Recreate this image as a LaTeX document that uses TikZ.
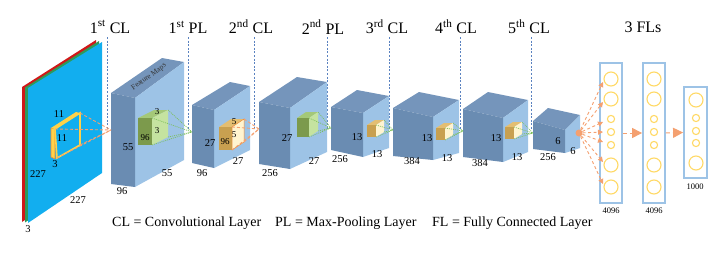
\documentclass[tikz,border=0pt]{standalone}
\usepackage{fontspec}
\setmainfont{Liberation Serif}
\usetikzlibrary{arrows.meta}
\definecolor{cfront}{HTML}{6A8CB2}
\definecolor{ctop}{HTML}{7595BB}
\definecolor{cside}{HTML}{9DC3E6}
\definecolor{ccyan}{HTML}{12AEEF}
\definecolor{cred}{HTML}{D01818}
\definecolor{cgreen}{HTML}{2E9A5A}
\definecolor{gfront}{HTML}{7C9A4C}
\definecolor{gtop}{HTML}{A4C878}
\definecolor{gside}{HTML}{C5E3A0}
\definecolor{ofront}{HTML}{C8A050}
\definecolor{otop}{HTML}{E3BE72}
\definecolor{oside}{HTML}{FFF4D0}
\definecolor{oline}{HTML}{F4A070}
\definecolor{gline}{HTML}{7CC05A}
\definecolor{bline}{HTML}{5A82C0}
\definecolor{fcblue}{HTML}{9DC3E6}
\definecolor{fcyel}{HTML}{FFD966}
\definecolor{kyel}{HTML}{FFD24A}
\definecolor{korg}{HTML}{F08A30}
\newcommand{\cuboid}[7]{%
  \fill[ctop] #1 -- #2 -- #5 -- #7 -- cycle;
  \fill[cside] #2 -- #5 -- #6 -- #3 -- cycle;
  \fill[cfront] #1 -- #2 -- #3 -- #4 -- cycle;}
\newcommand{\scube}[9]{%
  \fill[#8] (#1,#2) -- (#3,#2) -- ({#3+#5},{#2-#6}) -- ({#1+#5},{#2-#6}) -- cycle;
  \fill[#9] (#3,#2) -- ({#3+#5},{#2-#6}) -- ({#3+#5},{#4-#6}) -- (#3,#4) -- cycle;
  \fill[#7] (#1,#2) rectangle (#3,#4);}
\newcommand{\fan}[7]{%
  \draw[#7] (#1,#2) -- #6;
  \draw[#7] ({#1+#4},{#2-#5}) -- #6;
  \draw[#7] ({#1+#4},{#3-#5}) -- #6;
  \draw[#7] (#1,#3) -- #6;}
\begin{document}
\begin{tikzpicture}[x=1pt,y=-1pt,
  toplab/.style={font=\fontsize{16}{16}\selectfont,inner sep=0pt},
  leg/.style={font=\fontsize{14}{14}\selectfont,inner sep=0pt,anchor=west},
  num/.style={font=\fontsize{10.5}{10.5}\selectfont,inner sep=0pt},
  snum/.style={font=\fontsize{9}{9}\selectfont,inner sep=0pt},
  fnum/.style={font=\fontsize{8.5}{8.5}\selectfont,inner sep=0pt},
  vline/.style={draw=bline,line width=0.8pt,dash pattern=on 2pt off 1.6pt},
  oconn/.style={draw=oline,line width=0.9pt,dash pattern=on 3pt off 2pt},
  gconn/.style={draw=gline,line width=0.7pt,dash pattern=on 1pt off 1pt},
  fcbox/.style={draw=fcblue,line width=1.8pt},
  neuron/.style={draw=fcyel,line width=1.1pt},
  farrow/.style={draw=oline,line width=0.9pt,dash pattern=on 3pt off 2.5pt,-{Triangle[length=5pt,width=5pt,fill=oline]}},
  bigarrow/.style={draw=oline,line width=1pt,dash pattern=on 4pt off 3pt,-{Triangle[length=10pt,width=10pt,fill=oline]}}
]
\useasboundingbox (0,0) rectangle (724,260);

% vertical layer guide lines
\foreach \xx/\nm in {107/v1,188/v2,254/v3,327/v4,389/v5,460/v6,531/v7}{
  \coordinate (\nm a) at (\xx,37);
  \coordinate (\nm b) at (\xx,130);
  \draw[vline] (\nm a) -- (\nm b);}

% input image planes
\fill[cred] (22,87) -- (96,40) -- (96,171) -- (22,222) -- cycle;
\fill[cgreen] (25,87.5) -- (99,41) -- (99,172) -- (25,222.5) -- cycle;
\fill[ccyan] (28,88) -- (102,42) -- (102,173) -- (28,223) -- cycle;

% kernel on input
\fill[kyel,draw=korg,line width=0.6pt] (51,128) -- (55,129) -- (55,159) -- (51,157) -- cycle;
\fill[kyel] (51,128) -- (76,112) -- (80,113) -- (55,129) -- cycle;
\draw[kyel,line width=1.6pt] (55,129) -- (80,113) -- (80,145) -- (57,158) -- cycle;

% feature map blocks
\cuboid{(111,93)}{(135,98)}{(135,187)}{(111,184)}{(184,62)}{(184,160)}{(162,58)}
\cuboid{(192,105)}{(214,110)}{(214,168)}{(192,163)}{(250,86)}{(250,150)}{(230,82)}
\cuboid{(259,102)}{(290,108)}{(290,169)}{(259,164)}{(327,82)}{(327,152)}{(297,77)}
\cuboid{(331,107)}{(363,113)}{(363,157)}{(331,150)}{(389,96)}{(389,148)}{(357,90)}
\cuboid{(393,108)}{(433,117)}{(433,160)}{(393,156)}{(459,100)}{(459,153)}{(419,92)}
\cuboid{(463,109)}{(503,118)}{(503,162)}{(463,157)}{(528,100)}{(528,152)}{(488,92)}
\cuboid{(533,121)}{(565,130)}{(565,153)}{(533,149)}{(580,115)}{(580,148)}{(548,108)}

\node[font=\fontsize{7.5}{7.5}\selectfont,rotate=36,inner sep=0pt,text=black!80] (fm) at (149,77) {Feature Maps};

% small cubes (filters)
\scube{138}{118}{152}{145}{16}{8}{gfront}{gtop}{gside}
\scube{219}{127}{232}{150}{12}{8}{ofront}{otop}{oside}
\draw[korg,line width=0.5pt] (232,127) -- (244,119) -- (244,142) -- (232,150) -- cycle;
\scube{297}{118}{309}{137}{9}{6}{gfront}{gtop}{gside}
\scube{367}{125}{376}{137}{8}{5}{ofront}{otop}{oside}
\scube{436}{128}{445}{140}{8}{5}{ofront}{otop}{oside}
\scube{505}{127}{514}{139}{8}{5}{ofront}{otop}{oside}

% connectors between layers
\coordinate (k1) at (111,130);
\draw[oconn] (55,129) -- (k1);
\draw[oconn] (80,113) -- (k1);
\draw[oconn] (80,145) -- (k1);
\draw[oconn] (57,158) -- (k1);
\coordinate (k2) at (192,132);
\coordinate (k3) at (259,129);
\coordinate (k4) at (331,128);
\coordinate (k5) at (393,130);
\coordinate (k6) at (463,131);
\coordinate (k7) at (533,133);
\fan{152}{118}{145}{16}{8}{(k2)}{gconn}
\fan{232}{127}{150}{12}{8}{(k3)}{oconn}
\fan{309}{118}{137}{9}{6}{(k4)}{gconn}
\fan{376}{125}{137}{8}{5}{(k5)}{gconn}
\fan{445}{128}{140}{8}{5}{(k6)}{gconn}
\fan{514}{127}{139}{8}{5}{(k7)}{gconn}

% fully connected layers
\node[fcbox,minimum width=22pt,minimum height=140pt,inner sep=0pt] (fc1) at (611,133) {};
\node[fcbox,minimum width=22pt,minimum height=140pt,inner sep=0pt] (fc2) at (654,133) {};
\node[fcbox,minimum width=23pt,minimum height=91pt,inner sep=0pt] (fc3) at (695.5,132.5) {};
\foreach \yy/\rr/\nm in {79/7/a,99/7/b,119/3.6/c,132/3.6/d,145/3.6/e,165/7/f,187/7/g}{
  \draw[neuron] (611,\yy) circle (\rr);
  \draw[neuron] (654,\yy) circle (\rr);
  \coordinate (t\nm) at (603,{\yy+ (\yy<130 ? 3 : (\yy>136 ? -3 : 0))});}
\foreach \yy/\rr in {100/7,118/3.6,131/3.6,143/3.6,163/7}{
  \draw[neuron] (696,\yy) circle (\rr);}

\node[circle,fill=oline,minimum size=7pt,inner sep=0pt] (dot) at (579,133) {};
\foreach \nm in {a,b,c,d,e,f,g}{
  \draw[farrow] (dot) -- (t\nm);}
\draw[bigarrow] (fc1.east) -- (fc2.west);
\draw[bigarrow] (fc2.east) -- (fc3.west);

% top labels
\node[toplab] (L1) at (110,27) {1\textsuperscript{st} CL};
\node[toplab] (L2) at (188,27) {1\textsuperscript{st} PL};
\node[toplab] (L3) at (251,27) {2\textsuperscript{nd} CL};
\node[toplab] (L4) at (323,27) {2\textsuperscript{nd} PL};
\node[toplab] (L5) at (387,27) {3\textsuperscript{rd} CL};
\node[toplab] (L6) at (456,27) {4\textsuperscript{th} CL};
\node[toplab] (L7) at (529,27) {5\textsuperscript{th} CL};
\node[toplab] (L8) at (643,27) {3 FLs};

% dimension numbers
\node[num] (i1) at (59,114) {11};
\node[num] (i2) at (62,138) {11};
\node[num] (i3) at (55,164) {3};
\node[num] (i4) at (38,174) {227};
\node[num] (i5) at (78,200) {227};
\node[num] (i6) at (28,229) {3};
\node[snum] (s1) at (157,112) {3};
\node[snum] (s2) at (157,131) {3};
\node[snum] (s3) at (145,138) {96};
\node[snum] (s4) at (234,122) {5};
\node[snum] (s5) at (234,135) {5};
\node[snum] (s6) at (225,142) {96};
\node[num] (b1a) at (128,147) {55};
\node[num] (b1b) at (167,173) {55};
\node[num] (b1c) at (122,191) {96};
\node[num] (b2a) at (210,143) {27};
\node[num] (b2b) at (238,161) {27};
\node[num] (b2c) at (202,173) {96};
\node[num] (b3a) at (287,138) {27};
\node[num] (b3b) at (314,161) {27};
\node[num] (b3c) at (270,173) {256};
\node[num] (b4a) at (357,137) {13};
\node[num] (b4b) at (377,154) {13};
\node[num] (b4c) at (340,159) {256};
\node[num] (b5a) at (427,138) {13};
\node[num] (b5b) at (447,158) {13};
\node[num] (b5c) at (412,161) {384};
\node[num] (b6a) at (496,138) {13};
\node[num] (b6b) at (517,157) {13};
\node[num] (b6c) at (480,163) {384};
\node[num] (b7a) at (558,141) {6};
\node[num] (b7b) at (573,151) {6};
\node[num] (b7c) at (548,157) {256};
\node[fnum] (f1) at (611,211) {4096};
\node[fnum] (f2) at (654,211) {4096};
\node[fnum] (f3) at (695,187) {1000};

% legend
\node[leg] (g1) at (112,223) {CL = Convolutional Layer};
\node[leg] (g2) at (275,223) {PL = Max-Pooling Layer};
\node[leg] (g3) at (432,223) {FL = Fully Connected Layer};
\end{tikzpicture}
\end{document}
